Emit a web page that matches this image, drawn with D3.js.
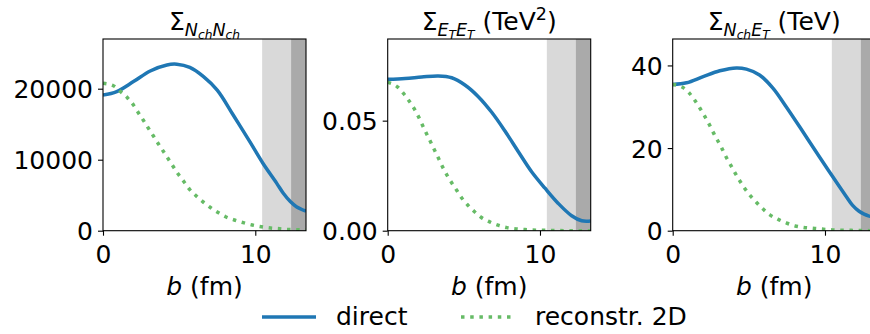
<!DOCTYPE html>
<html>
<head>
<meta charset="utf-8">
<script src="https://cdn.jsdelivr.net/npm/d3@7"></script>
<style>
body { margin: 0; background: #fff; }
text { font-family: "DejaVu Sans", sans-serif; fill: #000; }
</style>
</head>
<body>
<div id="chart"></div>
<script>
// values (b in fm)
var bandLight = [10.45, 12.35];
var bandDark = [12.35, 13.33];
var bMax = 13.33;

var nnDirectB = [0, 0.9, 2.0, 3.1, 4.2, 4.85, 5.7, 6.6, 7.5, 8.55, 9.65, 10.5, 11.4, 11.84, 12.3, 12.7, 13.33];
var nnDirect = [19100, 19600, 21000, 22500, 23350, 23450, 23000, 21700, 19800, 16300, 12500, 9500, 6700, 5270, 4100, 3380, 2750];
var nnRecoB = [0, 0.68, 1.16, 1.6, 2.0, 2.32, 2.65, 2.97, 3.3, 3.63, 3.96, 4.29, 4.62, 4.95, 5.32, 5.67, 6.11, 6.55, 7.03, 7.53, 8.05, 8.62, 9.21, 9.8, 10.4, 11.0, 11.6, 12.1, 12.65, 13.33];
var nnReco = [20760, 20420, 19580, 18730, 17700, 16620, 15550, 14470, 13380, 12250, 11180, 10100, 9010, 7940, 6900, 5870, 4930, 4090, 3300, 2590, 1970, 1510, 1130, 800, 560, 380, 280, 180, 150, 100];

var eeDirectB = [0, 1.14, 2.23, 3.32, 4.2, 5.07, 5.95, 6.83, 7.7, 8.58, 9.45, 10.33, 11.2, 12.08, 12.74, 13.33];
var eeDirect = [0.0688, 0.0692, 0.0698, 0.0703, 0.0695, 0.0662, 0.0609, 0.0538, 0.0453, 0.0359, 0.0268, 0.0193, 0.0124, 0.0068, 0.0045, 0.0044];
var eeRecoB = [0, 0.66, 1.07, 1.42, 1.75, 2.03, 2.3, 2.56, 2.82, 3.08, 3.35, 3.61, 3.89, 4.2, 4.53, 4.86, 5.25, 5.67, 6.13, 6.67, 7.24, 7.83, 8.42, 9.01, 10, 11, 12, 13.33];
var eeReco = [0.0674, 0.0652, 0.0621, 0.0588, 0.0553, 0.0517, 0.0477, 0.0439, 0.0403, 0.0365, 0.0327, 0.0289, 0.0253, 0.0218, 0.0184, 0.0149, 0.0117, 0.0088, 0.0061, 0.0041, 0.0025, 0.0014, 0.0008, 0.0005, 0.0002, 0.0001, 0, 0];

var neDirectB = [0, 0.91, 2.0, 3.09, 4.18, 4.84, 5.7, 6.58, 7.45, 8.54, 9.63, 10.5, 11.37, 11.8, 12.24, 12.57, 12.85, 13.33];
var neDirect = [35.4, 35.8, 37.3, 38.7, 39.4, 39.1, 37.7, 34.5, 30.0, 24.0, 17.9, 13.1, 8.4, 6.2, 4.7, 4.0, 3.6, 3.2];
var neRecoB = [0, 0.65, 1.09, 1.46, 1.78, 2.09, 2.39, 2.66, 2.94, 3.22, 3.5, 3.79, 4.09, 4.4, 4.72, 5.09, 5.49, 5.92, 6.36, 6.9, 7.45, 8.0, 8.6, 9.18, 9.77, 10.5, 11.5, 13.33];
var neReco = [35.4, 34.7, 33.3, 31.5, 29.7, 27.8, 25.8, 23.8, 21.9, 20.0, 17.9, 16.0, 14.0, 12.1, 10.3, 8.5, 6.9, 5.3, 3.9, 2.8, 1.9, 1.2, 0.8, 0.6, 0.4, 0.2, 0.1, 0];

var xTicks = [0, 10];
var yTicksNN = [0, 10000, 20000];
var yTicksEE = [0, 0.05];
var yTicksNE = [0, 20, 40];

// title pieces: [text, level, italic]  level 0 = normal, 1 = sub, 2 = subsub, -1 = sup
var titleNN = [["Σ", 0, false], ["N", 1, true], ["ch", 2, true], ["N", 1, true], ["ch", 2, true]];
var titleEE = [["Σ", 0, false], ["E", 1, true], ["T", 2, true], ["E", 1, true], ["T", 2, true], [" (TeV", 0, false], ["2", -1, false], [")", 0, false]];
var titleNE = [["Σ", 0, false], ["N", 1, true], ["ch", 2, true], ["E", 1, true], ["T", 2, true], [" (TeV)", 0, false]];

var blue = "#1f77b4";
var green = "#66bb66";

var panels = [
    {left: 103, yMax: 27000, ticks: yTicksNN, fmt: d3.format("d"), title: titleNN,
     direct: [nnDirectB, nnDirect], reco: [nnRecoB, nnReco]},
    {left: 387.7, yMax: 0.0871, ticks: yTicksEE, fmt: d3.format(".2f"), title: titleEE,
     direct: [eeDirectB, eeDirect], reco: [eeRecoB, eeReco]},
    {left: 672.7, yMax: 46.4, ticks: yTicksNE, fmt: d3.format("d"), title: titleNE,
     direct: [neDirectB, neDirect], reco: [neRecoB, neReco]}
];

var w = 870, h = 334;
var plotTop = 39, plotBottom = 230.7, pw = 203;
var fs = 25;

var svg = d3.select("#chart").append("svg")
    .attr("width", w)
    .attr("height", h);

var sizes = {"0": fs, "1": fs * 0.7, "2": fs * 0.49, "-1": fs * 0.7};
var shift = {"0": 0, "1": 6, "2": 8.5, "-1": -10};

panels.forEach(function(p, i){
    var xScale = d3.scaleLinear().domain([0, bMax]).range([p.left, p.left + pw]);
    var yScale = d3.scaleLinear().domain([0, p.yMax]).range([plotBottom, plotTop]);

    var g = svg.append("g");
    var clipId = "clip" + i;
    g.append("clipPath").attr("id", clipId)
        .append("rect")
        .attr("x", p.left).attr("y", plotTop)
        .attr("width", pw).attr("height", plotBottom - plotTop);

    var plot = g.append("g").attr("clip-path", "url(#" + clipId + ")");

    plot.append("rect")
        .attr("x", xScale(bandLight[0])).attr("y", plotTop)
        .attr("width", xScale(bandLight[1]) - xScale(bandLight[0]))
        .attr("height", plotBottom - plotTop)
        .attr("fill", "#d9d9d9");
    plot.append("rect")
        .attr("x", xScale(bandDark[0])).attr("y", plotTop)
        .attr("width", xScale(bandDark[1]) - xScale(bandDark[0]))
        .attr("height", plotBottom - plotTop)
        .attr("fill", "#aaaaaa");

    var smooth = d3.line()
        .x(function(d){ return xScale(d[0]); })
        .y(function(d){ return yScale(d[1]); })
        .curve(d3.curveCatmullRom.alpha(0.5));
    var mono = d3.line()
        .x(function(d){ return xScale(d[0]); })
        .y(function(d){ return yScale(d[1]); })
        .curve(d3.curveMonotoneX);

    var direct = d3.zip(p.direct[0], p.direct[1]);
    var reco = d3.zip(p.reco[0], p.reco[1]);

    plot.append("path")
        .datum(direct)
        .attr("d", smooth)
        .attr("fill", "none")
        .attr("stroke", blue)
        .attr("stroke-width", 3.5);

    plot.append("path")
        .datum(reco)
        .attr("d", mono)
        .attr("fill", "none")
        .attr("stroke", green)
        .attr("stroke-width", 3.5)
        .attr("stroke-dasharray", "3.5,5.7");

    // frame
    g.append("rect")
        .attr("x", p.left).attr("y", plotTop)
        .attr("width", pw).attr("height", plotBottom - plotTop)
        .attr("fill", "none")
        .attr("stroke", "#000")
        .attr("stroke-width", 1.1);

    var xAxis = d3.axisBottom(xScale).tickValues(xTicks).tickSize(5).tickPadding(5)
        .tickFormat(d3.format("d"));
    var yAxis = d3.axisLeft(yScale).tickValues(p.ticks).tickSize(5).tickPadding(5)
        .tickFormat(p.fmt);

    var xa = g.append("g")
        .attr("transform", "translate(0," + plotBottom + ")")
        .call(xAxis);
    var ya = g.append("g")
        .attr("transform", "translate(" + p.left + ",0)")
        .call(yAxis);

    [xa, ya].forEach(function(a){
        a.select(".domain").remove();
        a.selectAll("line").attr("stroke", "#000").attr("stroke-width", 1.1);
        a.selectAll("text")
            .style("font-family", "DejaVu Sans")
            .style("font-size", fs + "px")
            .attr("fill", "#000");
    });
    xa.selectAll("text").attr("dy", null).attr("y", 32);
    ya.selectAll("text").attr("dy", "0.36em");

    // x label
    var xl = g.append("text")
        .attr("x", p.left + pw / 2)
        .attr("y", 295)
        .attr("text-anchor", "middle")
        .style("font-size", fs + "px");
    xl.append("tspan").attr("font-style", "italic").text("b");
    xl.append("tspan").text(" (fm)");

    // title
    var t = g.append("text")
        .attr("x", p.left + pw / 2)
        .attr("y", 30)
        .attr("text-anchor", "middle")
        .style("font-size", fs + "px");
    var cur = 0;
    p.title.forEach(function(piece){
        var lvl = String(piece[1]);
        var dy = shift[lvl] - cur;
        cur = shift[lvl];
        t.append("tspan")
            .attr("dy", dy)
            .style("font-size", sizes[lvl] + "px")
            .attr("font-style", piece[2] ? "italic" : "normal")
            .text(piece[0]);
    });
});

// legend
var leg = svg.append("g");
leg.append("line")
    .attr("x1", 262).attr("x2", 316).attr("y1", 317).attr("y2", 317)
    .attr("stroke", blue).attr("stroke-width", 3.5);
leg.append("text").attr("x", 336).attr("y", 325)
    .style("font-size", fs + "px").text("direct");
leg.append("line")
    .attr("x1", 461).attr("x2", 515).attr("y1", 317).attr("y2", 317)
    .attr("stroke", green).attr("stroke-width", 3.5)
    .attr("stroke-dasharray", "3.5,5.7");
leg.append("text").attr("x", 535).attr("y", 325)
    .style("font-size", fs + "px").text("reconstr. 2D");
</script>
</body>
</html>
